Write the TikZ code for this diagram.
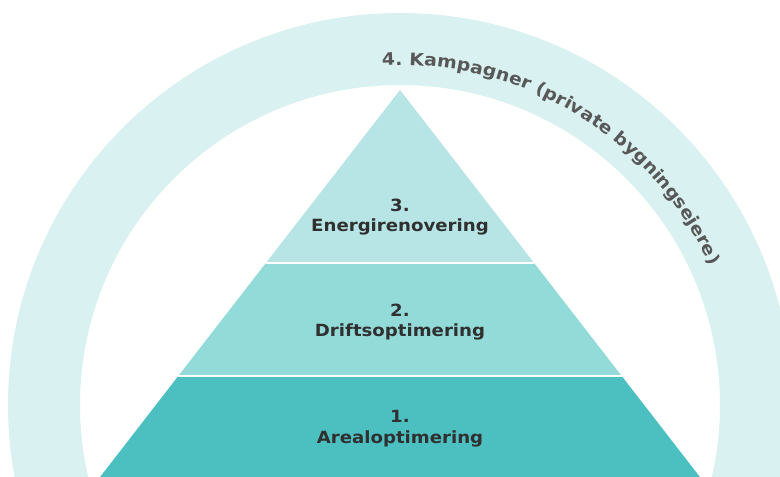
\documentclass[tikz,border=0pt]{standalone}
\usepackage{fontspec}
\usetikzlibrary{decorations.text}
\newfontfamily\dvb{DejaVu Sans}[FakeStretch=1.08]
\newfontfamily\dvbarc{DejaVu Sans}[FakeStretch=1.1]
\definecolor{ringc}{RGB}{218,241,241}
\definecolor{tierthree}{RGB}{183,229,229}
\definecolor{tiertwo}{RGB}{147,219,217}
\definecolor{tierone}{RGB}{76,191,193}
\definecolor{txtdark}{RGB}{48,48,48}
\definecolor{txtgray}{RGB}{88,88,88}
\newcommand{\lblfont}{\fontsize{16.8}{20}\selectfont\dvb\bfseries}
\newcommand{\arcfont}{\fontsize{17.2}{20}\selectfont\dvbarc\bfseries}
\begin{document}
\begin{tikzpicture}[x=1pt,y=1pt,
  lbl/.style={anchor=base, inner sep=0pt, text=txtdark, font=\lblfont},
  sep/.style={draw=white, line width=2.5pt}]
\useasboundingbox (0,0) rectangle (780,477);
\clip (0,0) rectangle (780,477);
\fill[white] (0,0) rectangle (780,477);
\coordinate (c) at (400,72);
% ring
\fill[ringc, even odd rule] (c) circle[radius=392pt] (c) circle[radius=320pt];
% pyramid
\coordinate (apex) at (400,387);
\coordinate (l3) at (265.9,214);
\coordinate (r3) at (534.1,214);
\coordinate (l2) at (178.3,101);
\coordinate (r2) at (621.7,101);
\coordinate (l1) at (90,-13);
\coordinate (r1) at (710,-13);
\fill[tierthree] (apex) -- (l3) -- (r3) -- cycle;
\fill[tiertwo] (l3) -- (l2) -- (r2) -- (r3) -- cycle;
\fill[tierone] (l2) -- (l1) -- (r1) -- (r2) -- cycle;
\draw[sep] (l3) -- (r3);
\draw[sep] (l2) -- (r2);
% labels
\node[lbl] (n3) at (400,265) {3.};
\node[lbl] (t3) at (400,245) {Energirenovering};
\node[lbl] (n2) at (400,160) {2.};
\node[lbl] (t2) at (400,140) {Driftsoptimering};
\node[lbl] (n1) at (400,54) {1.};
\node[lbl] (t1) at (400,33) {Arealoptimering};
% arc text
\path[decorate, decoration={text along path, text color=txtgray,
   text={|\arcfont|4. Kampagner (private bygningsejere)}}]
  ([shift={(93:340pt)}]c) arc[start angle=93, end angle=10, radius=340pt];
\end{tikzpicture}
\end{document}
